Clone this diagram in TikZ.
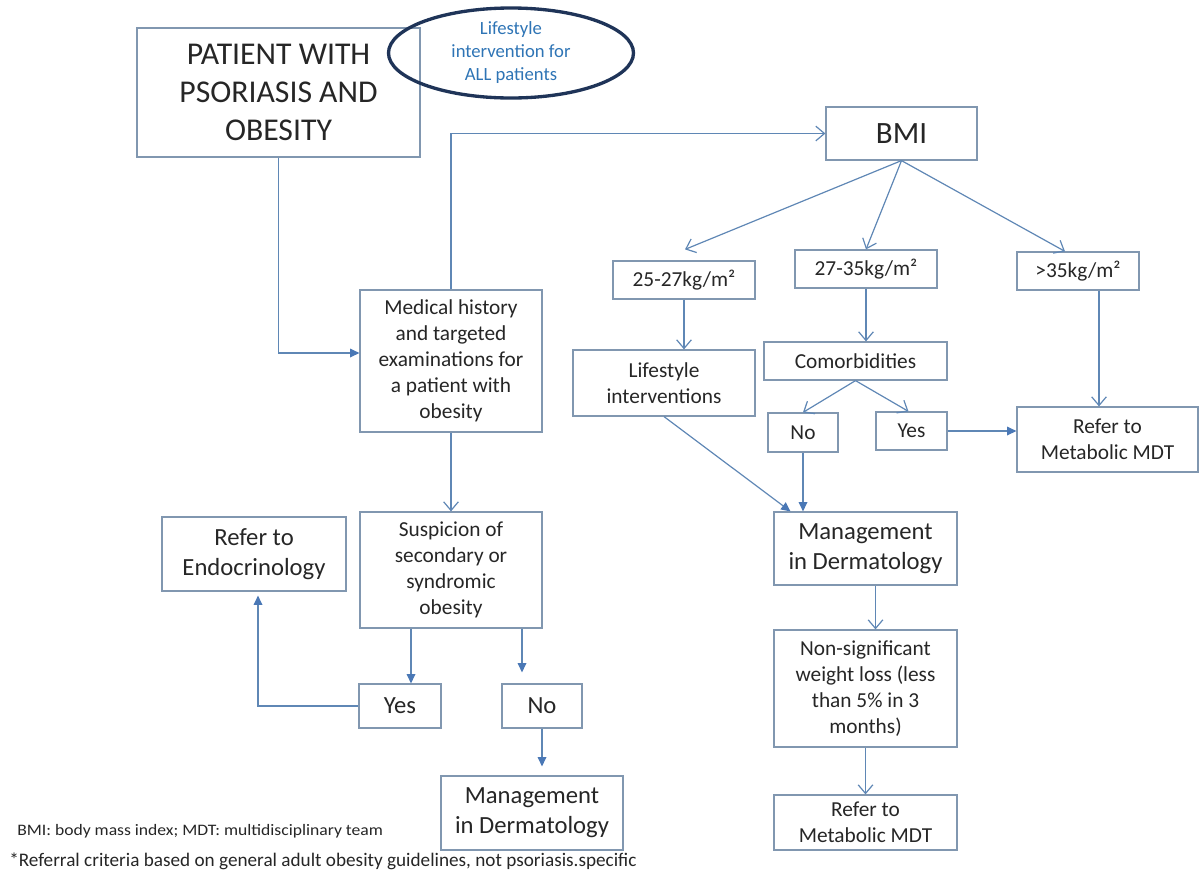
\documentclass[tikz,border=0pt]{standalone}
\usepackage{fontspec}
\setmainfont{Carlito}
\newfontfamily\widefont[FakeStretch=1.1]{Carlito}
\usetikzlibrary{arrows.meta,calc,shapes.geometric}
\definecolor{boxc}{HTML}{8197B0}
\definecolor{linec}{HTML}{5F87B5}
\definecolor{tipc}{HTML}{4A78B6}
\definecolor{txtc}{HTML}{262626}
\definecolor{navy}{HTML}{1F3458}
\definecolor{lblue}{HTML}{2E74B5}
\tikzset{
  sz/.style 2 args={minimum width=#1*0.75pt, minimum height=#2*0.75pt},
  box/.style={draw=boxc, line width=0.9pt, rectangle, inner sep=0pt, align=center, text=txtc},
  tm/.style={font=\fontsize{16pt}{19.5pt}\selectfont},
  tl/.style={font=\fontsize{18.5pt}{22.5pt}\selectfont},
  ol/.style={draw=linec, line width=0.9pt, -{Straight Barb[length=6.5pt,width=11pt,line width=0.9pt]}},
  fl/.style={draw=linec, line width=0.9pt, -{Triangle[length=7pt,width=6.5pt,color=tipc,fill=tipc]}},
}
\begin{document}
\begin{tikzpicture}[x=0.75pt,y=-0.75pt]
\useasboundingbox (0,0) rectangle (1200,879);
% nodes
\node[box, sz={283}{129}, font=\fontsize{23.8pt}{28.5pt}\selectfont] (pat) at (278.5,92.5) {PATIENT WITH\\PSORIASIS AND\\OBESITY};
\node[ellipse, draw=navy, line width=2.5pt, sz={245}{90}, inner sep=0pt, align=center, text=lblue, font=\fontsize{14pt}{17.25pt}\selectfont] (ell) at (511,53) {Lifestyle\\intervention for\\ALL patients};
\node[box, sz={151}{53}, font=\fontsize{23.25pt}{27pt}\selectfont] (bmi) at (901.5,133.5) {BMI};
\node[box, sz={182}{142}, tm] (med) at (451,361) {Medical history\\and targeted\\examinations for\\a patient with\\obesity};
\node[box, sz={182}{116}, tm] (sus) at (451,570) {Suspicion of\\secondary or\\syndromic\\obesity};
\node[box, sz={184}{74}, tl] (endo) at (254,554) {Refer to\\Endocrinology};
\node[box, sz={82}{44}, tl] (yesL) at (400,706) {Yes};
\node[box, sz={80}{44}, tl] (noL) at (542,706) {No};
\node[box, sz={182}{74}, tl] (mgL) at (532,813) {Management\\in Dermatology};
\node[box, sz={142}{38}, tm] (b1) at (684,280) {25-27kg/m²};
\node[box, sz={142}{38}, tm] (b2) at (866,269) {27-35kg/m²};
\node[box, sz={122}{38}, tm] (b3) at (1078,271) {>35kg/m²};
\node[box, sz={182}{66}, tm] (ls) at (664,383) {Lifestyle\\interventions};
\node[box, sz={183}{38}, tm] (com) at (855.5,361) {Comorbidities};
\node[box, sz={70}{39}, tm] (no) at (803,432.5) {No};
\node[box, sz={71}{38}, tm] (yes) at (911.5,431) {Yes};
\node[box, sz={181}{65}, tm] (mdt1) at (1107.5,439.5) {Refer to\\Metabolic MDT};
\node[box, sz={183}{73}, tl] (mgR) at (865.5,548.5) {Management\\in Dermatology};
\node[box, sz={183}{117}, tm] (ns) at (865.5,688.5) {Non-significant\\weight loss (less\\than 5\% in 3\\months)};
\node[box, sz={183}{55}, tm] (mdt2) at (865.5,822.5) {Refer to\\Metabolic MDT};
\node[anchor=west, inner sep=0pt, text=txtc, font=\widefont\fontsize{12pt}{14pt}\selectfont] (fn1) at (17,831) {BMI: body mass index; MDT: multidisciplinary team};
\node[anchor=west, inner sep=0pt, text=txtc, font=\fontsize{14.4pt}{16pt}\selectfont] (fn2) at (9,861) {*Referral criteria based on general adult obesity guidelines, not psoriasis.specific};
% helper coordinates
\coordinate (medin) at ($(med.west)+(0,-8)$);
\coordinate (s1) at ($(sus.south)+(-40,0)$);
\coordinate (s2) at ($(sus.south)+(71,0)$);
\coordinate (b3o) at ($(b3.south)+(21,0)$);
\coordinate (b1t) at ($(b1.north)+(1,-11)$);
\coordinate (b3t) at ($(b3.north)+(-13,0)$);
\coordinate (mgRt) at ($(mgR.north)+(-75,0)$);
\coordinate (mgRo) at ($(mgR.south)+(10,0)$);
\coordinate (endot) at ($(endo.south)+(4,4)$);
% connectors
\draw[fl] (pat.south) |- (medin);
\draw[ol] (med.north) |- (bmi.west);
\draw[ol] (bmi.south) -- (b1t);
\draw[ol] (bmi.south) -- (b2.north);
\draw[ol] (bmi.south) -- (b3t);
\draw[ol] (b1.south) -- (b1.south |- ls.north);
\draw[ol] (b2.south) -- (b2.south |- com.north);
\draw[ol] (b3o) -- (b3o |- mdt1.north);
\draw[ol] (com.south) -- (no.north);
\draw[ol] (com.south) -- ($(yes.north)+(-3,0)$);
\draw[fl] (yes.east) -- (yes.east -| mdt1.west);
\draw[fl] (ls.south) -- (mgRt);
\draw[fl] (no.south) -- (no.south |- mgR.north);
\draw[ol] (mgRo) -- (mgRo |- ns.north);
\draw[ol] (ns.south) -- (mdt2.north);
\draw[ol] (med.south) -- (sus.north);
\draw[fl] (s1) -- (s1 |- yesL.north);
\draw[fl, shorten >=11*0.75pt] (s2) -- (s2 |- noL.north);
\draw[fl] (yesL.west) -| (endot);
\draw[fl, shorten >=9*0.75pt] (noL.south) -- (noL.south |- mgL.north);
\end{tikzpicture}
\end{document}
